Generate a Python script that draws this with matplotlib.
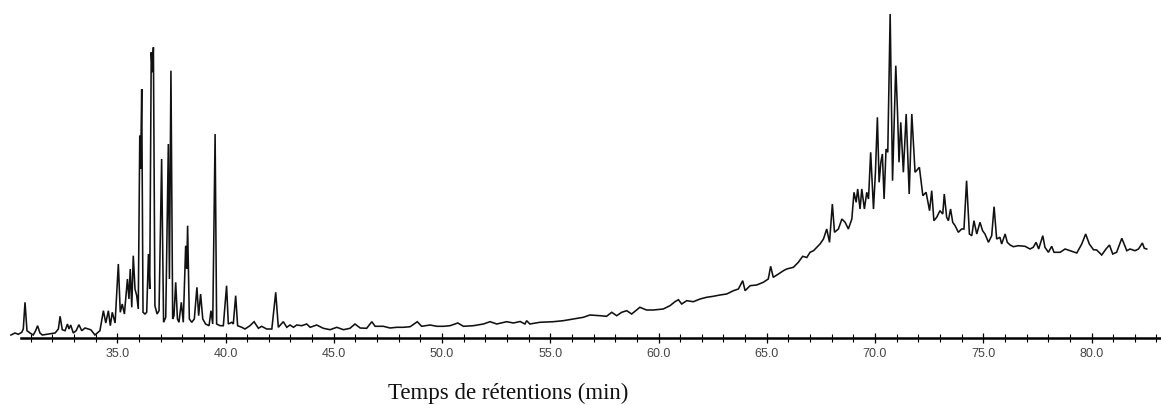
import matplotlib
matplotlib.use("Agg")
import matplotlib.pyplot as plt
from matplotlib.ticker import FixedLocator, FormatStrFormatter
import numpy as np

# --- retention time (min) and detector response (arbitrary units) ---
t_early = [30.09, 30.28, 30.43, 30.59, 30.66, 30.74, 30.83, 30.97, 31.12, 31.23, 31.32, 31.43,
           31.54, 31.82, 32.13, 32.28, 32.36, 32.46, 32.59, 32.70, 32.77, 32.85, 32.97, 33.10,
           33.23, 33.36, 33.51, 33.67, 33.79, 33.97, 34.20, 34.36, 34.47, 34.59, 34.68, 34.77,
           34.90]
y_early = [3, 5, 3.7, 5.7, 9, 35.7, 7.3, 5, 3, 7.3, 12.3, 5,
           3, 4, 5, 9, 21.7, 8.3, 7.3, 14, 9, 13, 5, 7.3,
           13.3, 7.3, 10, 9, 8, 3, 7.3, 27.3, 15, 27.3, 12.3, 25.7,
           15]

t_cluster = [35.05, 35.14, 35.23, 35.33, 35.47, 35.54, 35.60, 35.67, 35.74, 35.82, 35.90, 35.97,
             36.04, 36.08, 36.13, 36.19, 36.28, 36.36, 36.44, 36.50, 36.57, 36.62, 36.67, 36.74,
             36.84, 36.93, 37.05, 37.14, 37.24, 37.36, 37.41, 37.48, 37.56, 37.62, 37.70, 37.78,
             37.85, 37.96, 38.05, 38.16, 38.21, 38.25, 38.33, 38.44, 38.56, 38.68, 38.76, 38.85,
             38.95, 39.08, 39.24, 39.33, 39.41, 39.52, 39.59, 39.75, 39.90, 40.05, 40.13, 40.29,
             40.36, 40.47, 40.56, 40.75]
y_cluster = [74, 25.7, 34, 24, 59, 39, 69, 30.7, 82.3, 49, 42.3, 29,
             202.3, 169, 249, 25.7, 24, 25.7, 84, 49, 285.7, 265.7, 290.7, 32.3,
             24, 27.3, 179, 15.7, 20.7, 194, 59, 267.3, 19, 22.3, 55.7, 19,
             15.7, 35.7, 15.7, 92.3, 69, 112.3, 19, 15.7, 19, 50.7, 22.3, 44,
             19, 14, 12.3, 27.3, 14, 204, 14, 12.3, 12.3, 52.3, 14, 15.7,
             14, 42.3, 12.3, 10.7]

t_flat = [40.90, 41.13, 41.32, 41.52, 41.67, 41.90, 42.14, 42.32, 42.44, 42.67, 42.83, 42.98,
          43.14, 43.29, 43.52, 43.75, 43.91, 44.21, 44.52, 44.83, 45.14, 45.45, 45.75, 45.98,
          46.22, 46.52, 46.76, 46.91, 47.29, 47.60, 47.91, 48.22, 48.53, 48.86, 49.06, 49.45,
          49.76, 50.07, 50.37, 50.73, 50.99, 51.45, 51.91, 52.22, 52.53, 52.99, 53.30, 53.61]
y_flat = [9, 12.3, 16.3, 9.7, 11.7, 9, 9, 45.7, 10.7, 16.3, 10.7, 13,
          10.7, 13, 12.3, 14, 10.7, 13, 9.7, 8.3, 10.7, 8.3, 9.7, 14,
          10, 9.7, 16.3, 11.7, 11.7, 10, 10.7, 10.7, 11.3, 16.3, 11.7, 13,
          11.7, 11.7, 12.3, 15, 11.7, 12.3, 14, 16.3, 14, 16.3, 15, 16.5]

t_rise = [53.83, 53.91, 54.06, 54.52, 55.14, 55.60, 56.06, 56.53, 56.83, 57.30, 57.60, 57.84,
          58.07, 58.30, 58.53, 58.76, 59.14, 59.45, 59.76, 60.22, 60.53, 60.76, 60.92, 61.07,
          61.30, 61.61, 61.92, 62.22, 62.53, 62.84, 63.15, 63.46, 63.69, 63.89, 64.00, 64.23,
          64.53, 64.84, 65.07, 65.18, 65.30, 65.54, 65.77, 65.92, 66.23, 66.46, 66.66, 66.85,
          67.00, 67.16, 67.31]
y_rise = [14, 17.3, 14, 15.7, 16.3, 17.3, 19, 20.7, 23, 22.3, 21.7, 25.7,
          22.3, 25.7, 27.3, 24, 30.7, 28, 28, 29, 32.3, 36.3, 38.3, 34,
          37.3, 36.3, 39, 40.7, 41.7, 43, 44, 47.3, 49, 57.3, 47.3, 52.3,
          53, 55.7, 59, 71.7, 60.7, 64, 67.3, 69, 70.7, 75.7, 81.7, 80.5,
          85.7, 87.3, 90.7]

t_hump = [67.46, 67.62, 67.77, 67.90, 68.03, 68.13, 68.31, 68.47, 68.62, 68.77, 68.93, 69.03,
          69.13, 69.20, 69.31, 69.39, 69.51, 69.62, 69.70, 69.80, 69.93, 70.02, 70.11, 70.19,
          70.27, 70.34, 70.42, 70.51, 70.59, 70.70, 70.81, 70.96, 71.04, 71.11, 71.19, 71.31,
          71.44, 71.58, 71.70, 71.85, 72.05, 72.21, 72.36, 72.52]
y_hump = [94, 99, 109, 95.7, 134, 105.7, 109, 119, 115.7, 109, 119, 145.7,
          135.7, 149, 129, 149, 129, 145.7, 139, 185.7, 129, 165.7, 220.7, 155.7,
          175.7, 184, 139, 189, 185.7, 324, 157.3, 272.3, 225.7, 175.7, 215.7, 165.7,
          224, 144, 224, 165.7, 170.7, 142.3, 145.7, 127.3]

t_tail = [72.62, 72.72, 72.85, 73.00, 73.13, 73.20, 73.31, 73.39, 73.49, 73.59, 73.70, 73.85,
          74.00, 74.11, 74.23, 74.36, 74.47, 74.57, 74.70, 74.85, 74.97, 75.08, 75.24, 75.39,
          75.50, 75.62, 75.77, 75.85, 76.01, 76.11, 76.24, 76.39, 76.62, 76.93, 77.16, 77.31,
          77.44, 77.56, 77.75, 77.85, 78.01, 78.16, 78.27, 78.55, 78.78, 79.01, 79.32, 79.55,
          79.73, 79.90, 80.09, 80.24, 80.47, 80.67, 80.83, 80.98, 81.16, 81.40, 81.63, 81.78,
          82.01, 82.17, 82.35, 82.44, 82.55]
y_tail = [147.3, 117.3, 120.7, 127.3, 124, 144, 120.7, 117.3, 129, 115.7, 112.3, 105.7,
          109, 109, 157.3, 104, 102.3, 117.3, 104, 115.7, 107.3, 104, 95.7, 102.3,
          131.3, 99, 100.7, 94, 104, 95.7, 93, 91.3, 92.3, 91.7, 89, 90.7,
          95.7, 89, 102.3, 90.7, 85.7, 91.7, 85.7, 85.7, 89, 87.3, 85, 94,
          104, 94, 88.3, 88, 83, 89, 93, 84, 85.7, 99.7, 87.3, 89,
          87.3, 89, 95, 89.7, 89]

major_ticks = [35.0, 40.0, 45.0, 50.0, 55.0, 60.0, 65.0, 70.0, 75.0, 80.0]
minor_ticks = list(range(31, 84))
x_label = "Temps de rétentions (min)"

times = np.concatenate([t_early, t_cluster, t_flat, t_rise, t_hump, t_tail])
signal = np.concatenate([y_early, y_cluster, y_flat, y_rise, y_hump, y_tail])

W, H = 1161, 406
fig = plt.figure(figsize=(W / 100, H / 100), dpi=100)
axis_px = 339
ax = fig.add_axes([0, (H - axis_px) / H, 1, axis_px / H])

px_per_min = 21.65
x0_px = 9
x_right = 30 + (W - x0_px) / px_per_min
ax.set_xlim(30 - x0_px / px_per_min, x_right)
ax.set_ylim(0, axis_px)

ax.plot(times, signal, color="#111111", lw=1.15, solid_joinstyle="miter")

for s in ("top", "left", "right"):
    ax.spines[s].set_visible(False)
ax.spines["bottom"].set_linewidth(1.8)
ax.spines["bottom"].set_bounds(30.55, x_right)
ax.yaxis.set_visible(False)

ax.xaxis.set_major_locator(FixedLocator(major_ticks))
ax.xaxis.set_minor_locator(FixedLocator(minor_ticks))
ax.xaxis.set_major_formatter(FormatStrFormatter("%.1f"))
ax.tick_params(axis="x", which="major", direction="inout", length=7.5, width=0.9,
               pad=2.5, labelsize=9, labelcolor="#444444")
ax.tick_params(axis="x", which="minor", direction="inout", length=5.5, width=0.8)
for lab in ax.get_xticklabels():
    lab.set_family(["Liberation Sans", "DejaVu Sans"])

fig.text(508 / W, (H - 399) / H, x_label, ha="center", va="baseline",
         fontsize=16.5, family=["Liberation Serif", "DejaVu Serif"], color="#111111")

fig.savefig("out.png", dpi=100)
